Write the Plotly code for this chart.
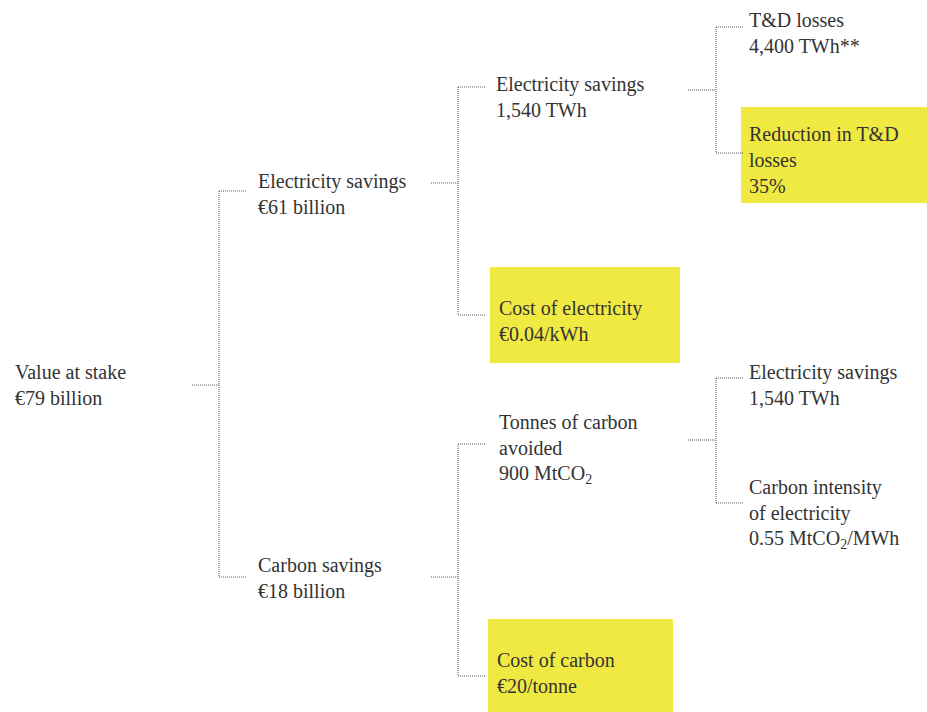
import plotly.graph_objects as go

# ---- data: tree nodes ----
node_title = [
    "Value at stake",
    "Electricity savings",
    "Carbon savings",
    "Electricity savings",
    "Cost of electricity",
    "Tonnes of carbon|avoided",
    "Cost of carbon",
    "T&D losses",
    "Reduction in T&D|losses",
    "Electricity savings",
    "Carbon intensity|of electricity",
]
node_value = [
    "€79 billion",
    "€61 billion",
    "€18 billion",
    "1,540 TWh",
    "€0.04/kWh",
    "900 MtCO<sub>2</sub>",
    "€20/tonne",
    "4,400 TWh**",
    "35%",
    "1,540 TWh",
    "0.55 MtCO<sub>2</sub>/MWh",
]
node_parent = [None, 0, 0, 1, 1, 2, 2, 3, 3, 5, 5]
node_highlight = [False, False, False, False, True, False, True, False, True, False, False]

# ---- layout (pixel-space positions, styles) ----
W, H = 927, 712
FONT = "Liberation Serif, serif"
FS = 20
TEXT_COLOR = "#333333"
LINE_COLOR = "#555555"
YELLOW = "#EFE942"
LINE_H = 26

text_x = [13, 256, 256, 494, 497, 497, 495, 747, 747, 747, 747]
text_y0 = [372, 181, 565, 84, 308, 422, 660, 20, 134, 372, 487]
in_y = [None, 191, 577, 87, 315, 444, 676, 27, 153, 378, 503]
out_y = [385, 183, 577, 90, None, 440, None, None, None, None, None]
depth = [0, 1, 1, 2, 2, 2, 2, 3, 3, 3, 3]
out_start = {0: 192, 1: 431, 2: 688}
bus_x = {0: 219, 1: 458, 2: 716}
stub_len = 27
boxes = {4: (490, 267, 680, 363), 8: (741, 107, 927, 203), 6: (488, 619, 673, 715)}

fig = go.Figure()

# highlight boxes
for i, (x0, y0, x1, y1) in boxes.items():
    if node_highlight[i]:
        fig.add_shape(type="rect", x0=x0, y0=y0, x1=x1, y1=y1,
                      xref="x", yref="y", fillcolor=YELLOW, line=dict(width=0), layer="below")

# connectors
xs, ys = [], []
for p in range(len(node_title)):
    children = [c for c in range(len(node_title)) if node_parent[c] == p]
    if not children:
        continue
    d = depth[p]
    bx = bus_x[d]
    xs += [out_start[d], bx, None]
    ys += [out_y[p], out_y[p], None]
    cy = [in_y[c] for c in children]
    xs += [bx, bx, None]
    ys += [min(cy), max(cy), None]
    for c in children:
        xs += [bx, bx + stub_len, None]
        ys += [in_y[c], in_y[c], None]

fig.add_trace(go.Scatter(x=xs, y=ys, mode="lines",
                         line=dict(color=LINE_COLOR, width=1, dash="1px,1px"),
                         hoverinfo="skip", showlegend=False))

# texts
for i in range(len(node_title)):
    lines = node_title[i].split("|") + [node_value[i]]
    for k, t in enumerate(lines):
        fig.add_annotation(x=text_x[i], y=text_y0[i] + k * LINE_H, text=t,
                           xref="x", yref="y", xanchor="left", yanchor="middle",
                           showarrow=False,
                           font=dict(family=FONT, size=FS, color=TEXT_COLOR))

fig.update_layout(
    width=W, height=H,
    margin=dict(l=0, r=0, t=0, b=0),
    paper_bgcolor="white", plot_bgcolor="white",
    xaxis=dict(range=[0, W], visible=False, fixedrange=True),
    yaxis=dict(range=[H, 0], visible=False, fixedrange=True),
    showlegend=False,
)

fig.write_html(
    "out.html",
    config={"displayModeBar": False},
    post_script="document.body.style.margin='0';document.body.style.overflow='hidden';",
)
